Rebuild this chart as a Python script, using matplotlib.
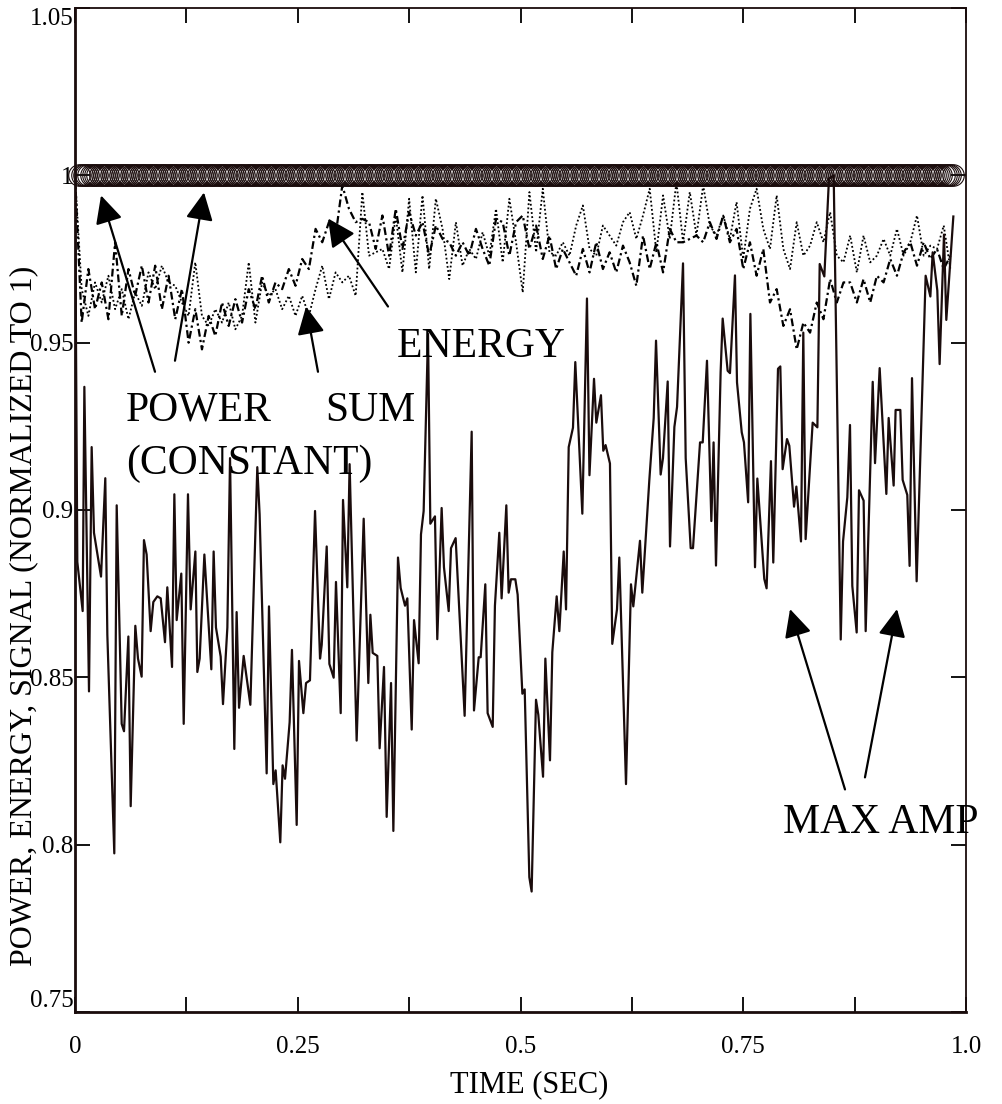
import matplotlib
matplotlib.use("Agg")
import matplotlib.pyplot as plt
import numpy as np
from matplotlib.ticker import FixedLocator, MultipleLocator

plt.rcParams["font.family"] = ["Liberation Serif", "DejaVu Serif"]

# --- data ---
# MAX AMP (solid line), irregular vertex positions
amp_time = [
    0.0, 0.0026, 0.0086, 0.0105, 0.0157, 0.0187, 0.0213, 0.0292, 0.0340, 0.0363,
    0.0441, 0.0468, 0.0524, 0.0550, 0.0599, 0.0625, 0.0677, 0.0707, 0.0748, 0.0774,
    0.0804, 0.0849, 0.0879, 0.0924, 0.0962, 0.1010, 0.1036, 0.1089, 0.1115, 0.1141,
    0.1193, 0.1220, 0.1268, 0.1298, 0.1351, 0.1373, 0.1399, 0.1452, 0.1530, 0.1556,
    0.1582, 0.1635, 0.1661, 0.1710, 0.1740, 0.1788, 0.1814, 0.1841, 0.1893, 0.1968,
    0.2046, 0.2072, 0.2151, 0.2177, 0.2226, 0.2252, 0.2304, 0.2330, 0.2357, 0.2409,
    0.2435, 0.2488, 0.2514,
    0.2563, 0.2593, 0.2637, 0.2694, 0.2750, 0.2769, 0.2825, 0.2855, 0.2903, 0.2929,
    0.2982, 0.3008, 0.3056, 0.3082, 0.3161, 0.3240, 0.3292, 0.3315, 0.3341, 0.3393,
    0.3419, 0.3468, 0.3498, 0.3547, 0.3573, 0.3625, 0.3655, 0.3704, 0.3730, 0.3779,
    0.3805, 0.3857, 0.3883, 0.3913, 0.3962, 0.3988, 0.4040, 0.4066, 0.4115, 0.4141,
    0.4194, 0.4220, 0.4272, 0.4373, 0.4452, 0.4478, 0.4531, 0.4553, 0.4605, 0.4631,
    0.4688, 0.4713, 0.4762, 0.4788, 0.4841, 0.4867, 0.4893, 0.4942, 0.4968, 0.5021,
    0.5047, 0.5099, 0.5125, 0.5174, 0.5200, 0.5253, 0.5279, 0.5331, 0.5357, 0.5406,
    0.5436, 0.5485, 0.5511, 0.5541, 0.5589, 0.5615, 0.5694, 0.5746, 0.5774, 0.5825,
    0.5851, 0.5903, 0.5929, 0.5955, 0.6004, 0.6030, 0.6083, 0.6109, 0.6184, 0.6240,
    0.6266, 0.6341, 0.6367, 0.6446, 0.6495, 0.6521, 0.6573, 0.6599, 0.6652, 0.6678,
    0.6727, 0.6757, 0.6824, 0.6854, 0.6910, 0.6936, 0.7015, 0.7045, 0.7093, 0.7142,
    0.7167, 0.7194, 0.7246, 0.7269, 0.7325, 0.7351, 0.7407, 0.7430, 0.7483, 0.7508,
    0.7555, 0.7580,
    0.7632, 0.7658, 0.7736, 0.7762, 0.7811, 0.7837, 0.7890, 0.7916, 0.7942, 0.7991,
    0.8017, 0.8070, 0.8096, 0.8148, 0.8174, 0.8200, 0.8279, 0.8332, 0.8358, 0.8410,
    0.8462, 0.8515, 0.8594, 0.8620, 0.8668, 0.8698, 0.8724, 0.8773, 0.8799, 0.8851,
    0.8874, 0.8953, 0.8979, 0.9031, 0.9106, 0.9132, 0.9188, 0.9210, 0.9263, 0.9289,
    0.9341, 0.9367, 0.9394, 0.9446, 0.9547, 0.9600, 0.9626, 0.9678, 0.9704, 0.9753,
    0.9779, 0.9858,
]
amp_value = [
    1.0, 0.8845, 0.8698, 0.9368, 0.8458, 0.9188, 0.8932, 0.8801, 0.9095, 0.8627,
    0.7974, 0.9014, 0.8361, 0.8339, 0.8622, 0.8115, 0.8654, 0.8556, 0.8502, 0.8910,
    0.8867, 0.8638, 0.8725, 0.8742, 0.8736, 0.8605, 0.8769, 0.8531, 0.9047, 0.8671,
    0.8810, 0.8361, 0.9047, 0.8703, 0.8876, 0.8516, 0.8556, 0.8867, 0.8524, 0.8876,
    0.8649, 0.8562, 0.8420, 0.8649, 0.9155, 0.8286, 0.8695, 0.8409, 0.8564, 0.8418,
    0.9128, 0.8987, 0.8213, 0.8712, 0.8181, 0.8222, 0.8007, 0.8237, 0.8197, 0.8366,
    0.8582, 0.8059, 0.8549,
    0.8393, 0.8483, 0.8491, 0.8997, 0.8556, 0.8597, 0.8891, 0.8540, 0.8499, 0.8785,
    0.8393, 0.9030, 0.8769, 0.9137, 0.8311, 0.8974, 0.8483, 0.8687, 0.8573, 0.8564,
    0.8288, 0.8531, 0.8083, 0.8483, 0.8041, 0.8858, 0.8767, 0.8714, 0.8736, 0.8344,
    0.8671, 0.8542, 0.8927, 0.8997, 0.9526, 0.8959, 0.8981, 0.8614, 0.9006, 0.8829,
    0.8698, 0.8886, 0.8916, 0.8385, 0.9234, 0.8401, 0.8560, 0.8560, 0.8778, 0.8393,
    0.8352, 0.8714, 0.8932, 0.8736, 0.9014, 0.8753, 0.8793, 0.8793, 0.8747, 0.8451,
    0.8464, 0.7903, 0.7860, 0.8433, 0.8388, 0.8203, 0.8556, 0.8252, 0.8575, 0.8742,
    0.8638, 0.8876, 0.8703, 0.9188, 0.9246, 0.9442, 0.8989, 0.9632, 0.9104, 0.9392,
    0.9261, 0.9343, 0.9177, 0.9194, 0.9139, 0.8600, 0.8703, 0.8858, 0.8181, 0.8778,
    0.8712, 0.8908, 0.8753, 0.9090, 0.9275, 0.9506, 0.9106, 0.9155, 0.9384, 0.8891,
    0.9248, 0.9308, 0.9737, 0.9155, 0.8886, 0.8886, 0.9202, 0.9202, 0.9446, 0.8967,
    0.9202, 0.8834, 0.9411, 0.9572, 0.9416, 0.9409, 0.9701, 0.9381, 0.9232, 0.9202,
    0.9023, 0.9586,
    0.8829, 0.9094, 0.8794, 0.8766, 0.9146, 0.8843, 0.9422, 0.9429, 0.9122, 0.9212,
    0.9192, 0.9010, 0.9070, 0.8906, 0.9530, 0.8913, 0.9261, 0.9247, 0.9735, 0.9698,
    0.9990, 1.0000, 0.8613, 0.8906, 0.9038, 0.9254, 0.8773, 0.8634, 0.9059, 0.9028,
    0.8638, 0.9383, 0.9140, 0.9424, 0.9048, 0.9275, 0.9073, 0.9299, 0.9299, 0.9090,
    0.9045, 0.8833, 0.9394, 0.8787, 0.9700, 0.9638, 0.9770, 0.9656, 0.9436, 0.9823,
    0.9568, 0.9877,
]

# ENERGY (dash-dot), sampled every 0.0075 s
energy_value = [
    1.000, 0.956, 0.972, 0.960, 0.968, 0.957, 0.980, 0.958, 0.972, 0.964,
    0.973, 0.962, 0.973, 0.960, 0.970, 0.957, 0.966, 0.950, 0.960, 0.948,
    0.958, 0.952, 0.962, 0.955, 0.963, 0.956, 0.966, 0.960, 0.970, 0.962,
    0.968, 0.966, 0.972, 0.967, 0.975, 0.972, 0.984, 0.980, 0.986, 0.982,
    0.997, 0.990, 0.986, 0.987, 0.986, 0.978, 0.988, 0.976, 0.990, 0.978,
    0.989, 0.982, 0.986, 0.976, 0.985, 0.981, 0.980, 0.976, 0.980, 0.976,
    0.984, 0.978, 0.973, 0.987, 0.986, 0.976, 0.986, 0.988, 0.978, 0.985,
    0.975, 0.982, 0.972, 0.978, 0.974, 0.970, 0.978, 0.971, 0.980, 0.972,
    0.977, 0.971, 0.979, 0.974, 0.967, 0.982, 0.972, 0.980, 0.971, 0.984,
    0.980, 0.980, 0.981, 0.982, 0.980, 0.986, 0.981, 0.988, 0.980, 0.984,
    0.972, 0.980, 0.970, 0.978, 0.962, 0.966, 0.955, 0.960, 0.948, 0.956,
    0.953, 0.962, 0.957, 0.969, 0.962, 0.968, 0.968, 0.962, 0.969, 0.962,
    0.970, 0.968, 0.975, 0.970, 0.977, 0.980, 0.973, 0.980, 0.975, 0.978,
    0.972, 0.976,
]

# SUM (dotted), sampled every 0.0075 s
sum_value = [
    1.000, 0.966, 0.958, 0.968, 0.962, 0.970, 0.960, 0.966, 0.957, 0.965,
    0.961, 0.971, 0.966, 0.973, 0.968, 0.967, 0.962, 0.958, 0.974, 0.958,
    0.955, 0.960, 0.956, 0.962, 0.954, 0.958, 0.974, 0.956, 0.968, 0.964,
    0.966, 0.960, 0.964, 0.958, 0.964, 0.958, 0.966, 0.973, 0.963, 0.971,
    0.968, 0.970, 0.964, 0.995, 0.976, 0.977, 0.978, 0.972, 0.988, 0.971,
    0.993, 0.971, 0.994, 0.972, 0.993, 0.984, 0.969, 0.986, 0.973, 0.978,
    0.975, 0.983, 0.976, 0.990, 0.974, 0.993, 0.980, 0.965, 0.995, 0.977,
    0.996, 0.977, 0.976, 0.980, 0.976, 0.985, 0.991, 0.978, 0.976, 0.985,
    0.982, 0.979, 0.986, 0.989, 0.981, 0.988, 0.996, 0.977, 0.994, 0.981,
    0.998, 0.980, 0.995, 0.982, 0.997, 0.985, 0.982, 0.988, 0.981, 0.992,
    0.975, 0.990, 0.996, 0.984, 0.978, 0.994, 0.978, 0.972, 0.986, 0.976,
    0.979, 0.986, 0.980, 0.989, 0.976, 0.974, 0.982, 0.971, 0.982, 0.974,
    0.976, 0.981, 0.976, 0.984, 0.976, 0.980, 0.988, 0.976, 0.979, 0.978,
    0.985, 0.972,
]
sample_step = 0.0075
energy_time = np.arange(len(energy_value)) * sample_step
sum_time = np.arange(len(sum_value)) * sample_step

# POWER SUM (constant) circles
power_time = np.arange(0.005, 0.9851, 0.0025)
power_value = [1.0] * len(power_time)

x_ticks = [0, 0.25, 0.5, 0.75, 1.0]
x_tick_labels = ["0", "0.25", "0.5", "0.75", "1.0"]
y_ticks = [0.75, 0.8, 0.85, 0.9, 0.95, 1.0, 1.05]
y_tick_labels = ["0.75", "0.8", "0.85", "0.9", "0.95", "1", "1.05"]

INK = "#1a0c0c"

fig = plt.figure(figsize=(10.02, 11.04), dpi=100)
ax = fig.add_axes([75 / 1002, 92 / 1104, 891 / 1002, 1004 / 1104])

ax.plot(sum_time, sum_value, color="black", lw=1.3, linestyle=(0, (1, 1.3)), zorder=2)
ax.plot(energy_time, energy_value, color="black", lw=1.6,
        linestyle=(0, (3.5, 1.5, 1, 1.5)), zorder=2)
ax.plot(amp_time, amp_value, color=INK, lw=1.6, zorder=3)
ax.plot(power_time, power_value, linestyle="none", marker="o", markersize=15.5,
        markerfacecolor="none", markeredgecolor=INK, markeredgewidth=0.8, zorder=4,
        clip_on=False)

ax.set_xlim(0, 1.0)
ax.set_ylim(0.75, 1.05)

ax.xaxis.set_major_locator(FixedLocator(x_ticks))
ax.set_xticklabels(x_tick_labels)
ax.xaxis.set_minor_locator(MultipleLocator(0.125))
ax.yaxis.set_major_locator(FixedLocator(y_ticks))
ax.set_yticklabels(y_tick_labels)

ax.tick_params(which="both", direction="in", top=True, right=True, length=11, width=1.3)
ax.tick_params(axis="x", which="major", labelsize=18, pad=17)
ax.tick_params(axis="y", which="major", labelsize=18, pad=1)

ylabels = ax.get_yticklabels()
ylabels[0].set_va("bottom")
ylabels[-1].set_va("top")

for side in ["left", "bottom"]:
    ax.spines[side].set_linewidth(2.0)
for side in ["top", "right"]:
    ax.spines[side].set_linewidth(1.3)
for sp in ax.spines.values():
    sp.set_color(INK)

ax.set_xlabel("TIME (SEC)", fontsize=22, va="center")
ax.xaxis.set_label_coords(0.51, -0.0727)
ax.set_ylabel("POWER, ENERGY, SIGNAL (NORMALIZED TO 1)", fontsize=23, va="center")
ax.yaxis.set_label_coords(-0.058, 0.395)

# annotations
arrow = dict(arrowstyle="-|>,head_length=0.85,head_width=0.42", color="black",
             lw=1.6, shrinkA=0, shrinkB=0, mutation_scale=20)

ax.text(0.0572, 0.9266, "POWER", fontsize=30)
ax.text(0.2806, 0.9266, "SUM", fontsize=30)
ax.text(0.0572, 0.9108, "(CONSTANT)", fontsize=30)
ax.text(0.3614, 0.9458, "ENERGY", fontsize=30)
ax.text(0.7946, 0.8036, "MAX AMP", fontsize=30, clip_on=False)

ax.annotate("", xy=(0.0292, 0.9940), xytext=(0.0898, 0.9413), arrowprops=arrow)
ax.annotate("", xy=(0.1448, 0.9949), xytext=(0.1122, 0.9446), arrowprops=arrow)
ax.annotate("", xy=(0.2593, 0.9608), xytext=(0.2727, 0.9413), arrowprops=arrow)
ax.annotate("", xy=(0.2840, 0.9871), xytext=(0.3513, 0.9608), arrowprops=arrow)
ax.annotate("", xy=(0.8025, 0.8704), xytext=(0.8642, 0.8165), arrowprops=arrow)
ax.annotate("", xy=(0.9226, 0.8704), xytext=(0.8866, 0.8201), arrowprops=arrow)

fig.savefig("out.png", dpi=100, facecolor="white")
